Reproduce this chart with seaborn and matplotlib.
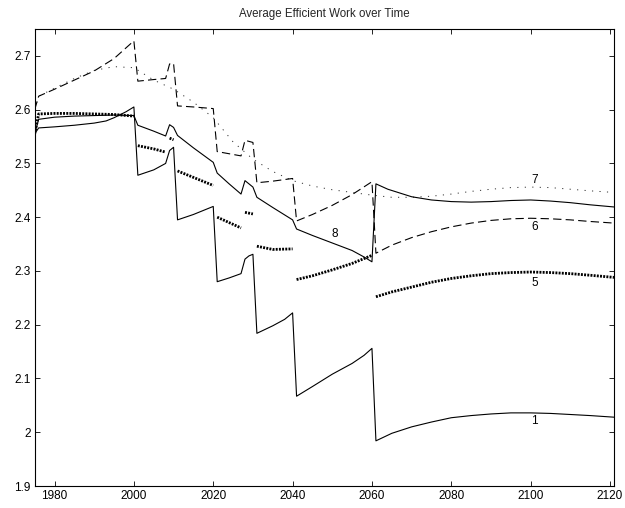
import numpy as np
import pandas as pd
import matplotlib
matplotlib.use("Agg")
import matplotlib.pyplot as plt
import seaborn as sns

# ---------------- data ----------------
line1_years = [1975, 1976, 1980, 1985, 1990, 1993, 1995, 1998, 2000,
               2001, 2005, 2008, 2009, 2010,
               2011, 2015, 2020,
               2021, 2024, 2027, 2028, 2029, 2030,
               2031, 2035, 2038, 2040,
               2041, 2045, 2050, 2055, 2058, 2060,
               2061, 2065, 2070, 2075, 2080, 2085, 2090, 2095, 2100, 2105, 2110, 2115, 2121]
line1_values = [2.555, 2.566, 2.568, 2.571, 2.575, 2.579, 2.585, 2.596, 2.605,
                2.478, 2.488, 2.500, 2.524, 2.530,
                2.395, 2.405, 2.420,
                2.280, 2.287, 2.295, 2.322, 2.328, 2.331,
                2.184, 2.198, 2.210, 2.222,
                2.067, 2.085, 2.108, 2.128, 2.143, 2.156,
                1.984, 1.998, 2.010, 2.019, 2.027, 2.031, 2.034, 2.036, 2.036, 2.035, 2.033, 2.031, 2.028]

line8_years = [1975, 1976, 1980, 1985, 1990, 1995, 2000,
               2001, 2005, 2008, 2009, 2010,
               2011, 2015, 2020,
               2021, 2024, 2027, 2028, 2029, 2030,
               2031, 2035, 2040,
               2041, 2045, 2050, 2055, 2058, 2060,
               2061, 2064, 2067, 2070, 2075, 2080, 2085, 2090, 2095, 2100, 2105, 2110, 2115, 2121]
line8_values = [2.555, 2.582, 2.586, 2.588, 2.589, 2.590, 2.589,
                2.571, 2.560, 2.551, 2.572, 2.567,
                2.552, 2.529, 2.502,
                2.482, 2.462, 2.443, 2.468, 2.462, 2.456,
                2.437, 2.418, 2.395,
                2.378, 2.366, 2.352, 2.338, 2.326, 2.317,
                2.462, 2.452, 2.445, 2.438, 2.432, 2.429, 2.428, 2.429, 2.431, 2.432, 2.430, 2.427, 2.423, 2.419]

line6_years = [1975, 1976, 1980, 1985, 1990, 1995, 2000,
               2001, 2005, 2008, 2009, 2010,
               2011, 2015, 2020,
               2021, 2024, 2027, 2028, 2030,
               2031, 2035, 2040,
               2041, 2045, 2050, 2055, 2060,
               2061, 2065, 2070, 2075, 2080, 2085, 2090, 2095, 2100, 2105, 2110, 2115, 2121]
line6_values = [2.600, 2.625, 2.638, 2.655, 2.672, 2.695, 2.728,
                2.653, 2.656, 2.658, 2.685, 2.686,
                2.607, 2.605, 2.602,
                2.522, 2.518, 2.514, 2.543, 2.539,
                2.464, 2.467, 2.472,
                2.393, 2.405, 2.422, 2.442, 2.466,
                2.333, 2.348, 2.362, 2.373, 2.382, 2.389, 2.394, 2.397, 2.398, 2.397, 2.395, 2.392, 2.389]

line7_years = [1975, 1976, 1980, 1985, 1990, 1995, 2000, 2005, 2010, 2015, 2020, 2025, 2030,
               2035, 2040, 2045, 2050, 2055, 2060, 2065, 2070, 2075, 2080, 2085, 2090, 2095,
               2100, 2105, 2110, 2115, 2121]
line7_values = [2.600, 2.625, 2.640, 2.658, 2.673, 2.680, 2.678, 2.655, 2.638, 2.614, 2.585, 2.540, 2.508,
                2.485, 2.468, 2.458, 2.451, 2.446, 2.441, 2.437, 2.437, 2.439, 2.443, 2.448, 2.452, 2.455,
                2.456, 2.455, 2.452, 2.449, 2.446]

line5_years = [1975, 1976, 1980, 1985, 1990, 1995, 2000,
               2001, 2005, 2008,
               2009, 2010,
               2011, 2015, 2020,
               2021, 2024, 2027,
               2028, 2030,
               2031, 2035, 2040,
               2041, 2045, 2050, 2055, 2060,
               2061, 2065, 2070, 2075, 2080, 2085, 2090, 2095, 2100, 2105, 2110, 2115, 2121]
line5_values = [2.555, 2.592, 2.593, 2.593, 2.592, 2.591, 2.588,
                2.533, 2.527, 2.521,
                2.547, 2.544,
                2.486, 2.474, 2.459,
                2.400, 2.390, 2.380,
                2.409, 2.406,
                2.346, 2.340, 2.341,
                2.284, 2.291, 2.302, 2.314, 2.329,
                2.252, 2.261, 2.270, 2.279, 2.286, 2.291, 2.295, 2.297, 2.298, 2.297, 2.295, 2.292, 2.288]
line5_segment = [0] * 7 + [1] * 3 + [2] * 2 + [3] * 3 + [4] * 3 + [5] * 2 + [6] * 3 + [7] * 5 + [8] * 13

label_text = ["7", "6", "5", "1", "8"]
label_year = [2101, 2101, 2101, 2101, 2050.5]
label_value = [2.469, 2.381, 2.278, 2.020, 2.369]

x_ticks = [1980, 2000, 2020, 2040, 2060, 2080, 2100, 2120]
y_ticks = [1.9, 2.0, 2.1, 2.2, 2.3, 2.4, 2.5, 2.6, 2.7]
title = "Average Efficient Work over Time"

# ---------------- style ----------------
sns.set_theme(style="ticks")
plt.rcParams["font.family"] = ["Liberation Sans", "DejaVu Sans"]
plt.rcParams["axes.edgecolor"] = "black"
plt.rcParams["xtick.color"] = "black"
plt.rcParams["ytick.color"] = "black"

fig = plt.figure(figsize=(6.25, 5.08), dpi=100)
fig.patch.set_facecolor("white")
ax = fig.add_axes([0.0555, 0.0433, 0.9269, 0.8996])
ax.set_facecolor("white")

df5 = pd.DataFrame({"year": line5_years, "value": line5_values, "seg": line5_segment})

# thin dotted (7)
sns.lineplot(x=line7_years, y=line7_values, ax=ax, color="#333333", lw=0.7,
             linestyle=(0, (1.2, 6.5)), estimator=None, sort=False)
# dashed (6)
sns.lineplot(x=line6_years, y=line6_values, ax=ax, color="black", lw=0.8,
             linestyle=(0, (7.5, 3.8)), estimator=None, sort=False)
# solid (8)
sns.lineplot(x=line8_years, y=line8_values, ax=ax, color="black", lw=0.8,
             estimator=None, sort=False)
# solid (1)
sns.lineplot(x=line1_years, y=line1_values, ax=ax, color="black", lw=0.8,
             estimator=None, sort=False)
# thick dotted (5), segmented
sns.lineplot(data=df5, x="year", y="value", units="seg", ax=ax, color="black", lw=2.0,
             linestyle=(0, (0.7, 0.45)), estimator=None, sort=False)

for t, xv, yv in zip(label_text, label_year, label_value):
    ax.text(xv, yv, t, ha="center", va="center", fontsize=8.5, color="black")

ax.set_xlim(1975, 2121)
ax.set_ylim(1.9, 2.75)
ax.set_xticks(x_ticks)
ax.set_xticklabels([f"{v:g}" for v in x_ticks])
ax.set_yticks(y_ticks)
ax.set_yticklabels([f"{v:g}" for v in y_ticks])
ax.set_xlabel("")
ax.set_ylabel("")
ax.tick_params(direction="in", top=True, right=True, length=3.5, width=0.6,
               labelsize=8.5, pad=3)
for s in ax.spines.values():
    s.set_visible(True)
    s.set_linewidth(0.8)
    s.set_color("black")
ax.grid(False)
ax.set_title(title, fontsize=8.3, pad=9)

fig.savefig("out.png", dpi=100, facecolor="white")
